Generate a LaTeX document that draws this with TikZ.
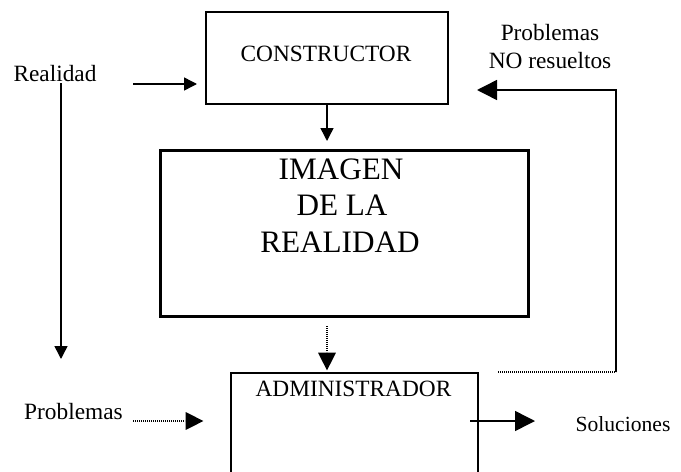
\documentclass[tikz,border=0pt]{standalone}
\usepackage{fontspec}
\setmainfont{Liberation Serif}
\usetikzlibrary{arrows.meta}
\begin{document}
\begin{tikzpicture}[x=0.75pt,y=-0.75pt,
  box/.style={draw, line width=1.5pt, inner sep=0pt, anchor=north west},
  lbl/.style={font=\fontsize{17.5}{21}\selectfont, anchor=base, inner sep=0pt},
  big/.style={font=\fontsize{23.4}{28}\selectfont, anchor=base, inner sep=0pt},
  arrS/.style={line width=1.1pt, -{Triangle[length=9.75pt,width=9.75pt]}},
  arrL/.style={line width=1.1pt, -{Triangle[length=15pt,width=15pt]}},
  dots/.style={line width=0.8pt, dash pattern=on 0.6pt off 0.9pt}]
\useasboundingbox (0,0) rectangle (681,471);
\clip (0,0) rectangle (681,471);

% boxes
\node[box, minimum width=181.5pt, minimum height=69pt] (constructor) at (205,11) {};
\node[box, line width=2.25pt, minimum width=276pt, minimum height=124.5pt] (imagen) at (159,149) {};
\node[box, minimum width=185.25pt, minimum height=112.5pt] (admin) at (230,372) {};

% texts
\node[lbl] (tconstr) at (326,61) {CONSTRUCTOR};
\node[big] (img1) at (341,179) {IMAGEN};
\node[big] (img2) at (342,215.5) {DE LA};
\node[big] (img3) at (340,252) {REALIDAD};
\node[lbl] (tadmin) at (353.5,396) {ADMINISTRADOR};
\node[lbl] (realidad) at (55,81) {Realidad};
\node[lbl] (probnr1) at (550,40) {Problemas};
\node[lbl] (probnr2) at (550,68) {NO resueltos};
\node[lbl] (problemas) at (73.5,419) {Problemas};
\node[lbl, font=\fontsize{16.2}{20}\selectfont] (soluciones) at (623,431) {Soluciones};

% connector ends
\coordinate (rA) at (133,84);
\coordinate (rB) at (197,84);
\coordinate (vA) at (61,83);
\coordinate (vB) at (61,359);
\coordinate (pA) at (133,421);
\coordinate (pB) at (205,421);
\coordinate (sA) at (470,421);
\coordinate (sB) at (535,421);
\coordinate (fA) at (498,372);
\coordinate (fB) at (616,372);
\coordinate (fC) at (616,90);
\coordinate (fD) at (477,90);

% connectors
\draw[arrS] (rA) -- (rB);
\draw[arrS] (vA) -- (vB);
\draw[arrS] (constructor.south) -- ([yshift=6pt]constructor.south |- imagen.north);
\draw[dots] ([yshift=-6pt]imagen.south -| constructor.south) -- ([yshift=15pt]constructor.south |- admin.north);
\draw[arrL, draw opacity=0] ([yshift=16pt]constructor.south |- admin.north) -- (constructor.south |- admin.north);
\draw[dots] (pA) -- ([xshift=-15pt]pB);
\draw[arrL, draw opacity=0] ([xshift=-16pt]pB) -- (pB);
\draw[arrL] (sA) -- (sB);
\draw[dots] (fA) -- (fB);
\draw[arrL] (fB) -- (fC) -- (fD);
\end{tikzpicture}
\end{document}
